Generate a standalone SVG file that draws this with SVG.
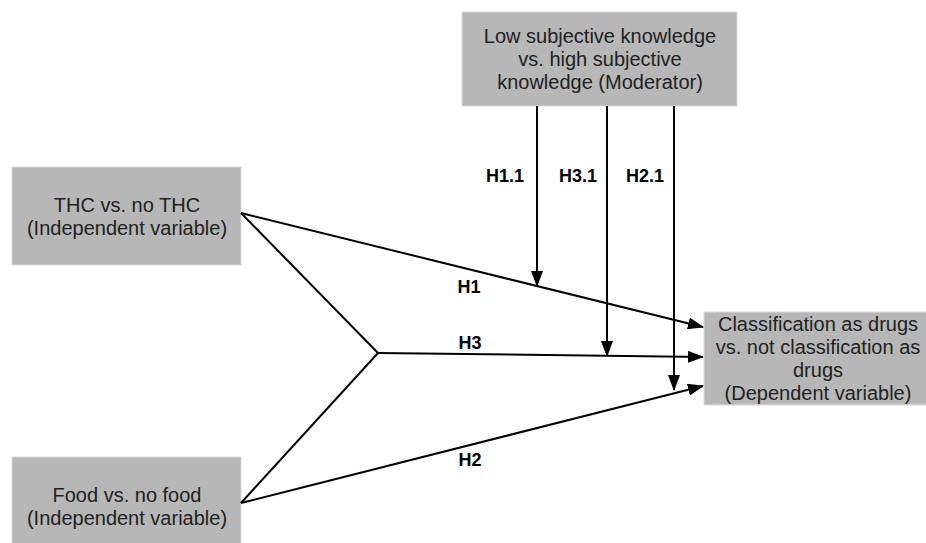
<svg xmlns="http://www.w3.org/2000/svg" width="926" height="543" viewBox="0 0 926 543">
<defs>
<marker id="ah" markerWidth="16" markerHeight="12" refX="15" refY="6" orient="auto" markerUnits="userSpaceOnUse">
<path d="M0,0 L16,6 L0,12 Z" fill="#000"/>
</marker>
<style>
.box{fill:#b7b7b7;stroke:#d9d9d9;stroke-width:1}
.t{font-family:"Liberation Sans",Arial,sans-serif;font-size:20px;fill:#222;text-anchor:middle}
.lb{font-family:"Liberation Sans",Arial,sans-serif;font-size:18px;font-weight:bold;fill:#000;text-anchor:middle}
.ln{stroke:#000;stroke-width:2;fill:none}
.ar{stroke:#000;stroke-width:2;fill:none;marker-end:url(#ah)}
</style>
</defs>
<rect width="926" height="543" fill="#fff"/>
<g id="moderator">
<rect class="box" x="462" y="12" width="275" height="94"/>
<text class="t" x="600" y="43">Low subjective knowledge</text>
<text class="t" x="600" y="66">vs. high subjective</text>
<text class="t" x="600" y="89">knowledge (Moderator)</text>
</g>
<g id="thc">
<rect class="box" x="12" y="167" width="229" height="98"/>
<text class="t" x="127" y="212">THC vs. no THC</text>
<text class="t" x="127" y="235">(Independent variable)</text>
</g>
<g id="food">
<rect class="box" x="12" y="457" width="229" height="98"/>
<text class="t" x="127" y="502">Food vs. no food</text>
<text class="t" x="127" y="525">(Independent variable)</text>
</g>
<g id="dependent">
<rect class="box" x="704" y="312" width="230" height="93"/>
<text class="t" x="818" y="331">Classification as drugs</text>
<text class="t" x="818" y="354">vs. not classification as</text>
<text class="t" x="818" y="377">drugs</text>
<text class="t" x="818" y="400">(Dependent variable)</text>
</g>
<g id="connectors">
<line class="ln" x1="241" y1="213" x2="378" y2="353"/>
<line class="ln" x1="241" y1="503" x2="378" y2="353"/>
<line class="ar" x1="241" y1="213" x2="703" y2="327"/>
<line class="ar" x1="378" y1="353" x2="703" y2="357"/>
<line class="ar" x1="241" y1="503" x2="703" y2="386"/>
<line class="ar" x1="537" y1="106" x2="537" y2="286"/>
<line class="ar" x1="607" y1="106" x2="607" y2="356"/>
<line class="ar" x1="674" y1="106" x2="674" y2="390"/>
<text class="lb" x="505" y="182">H1.1</text>
<text class="lb" x="578" y="182">H3.1</text>
<text class="lb" x="645" y="182">H2.1</text>
<text class="lb" x="469" y="293">H1</text>
<text class="lb" x="470" y="349">H3</text>
<text class="lb" x="470" y="466">H2</text>
</g>
</svg>
